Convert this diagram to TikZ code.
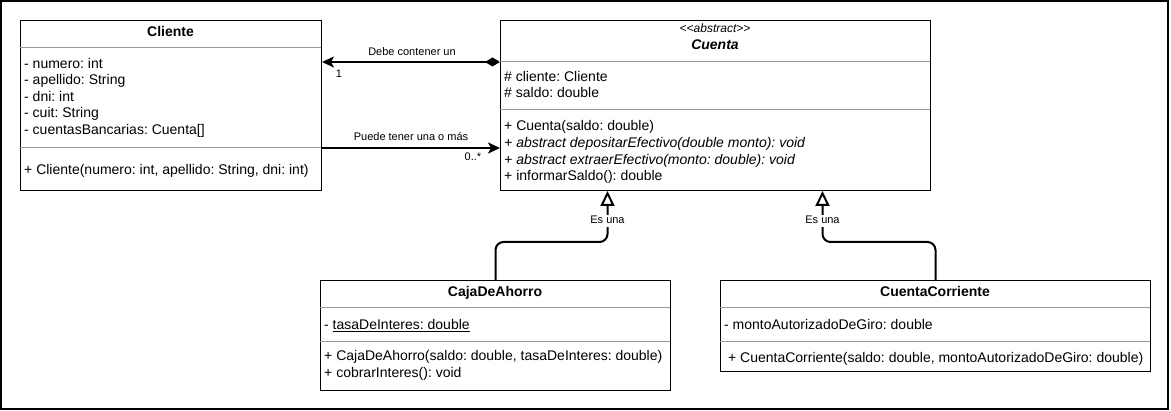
\documentclass[tikz,border=0pt]{standalone}
\usepackage{fontspec}
\setmainfont{Liberation Sans}
\usetikzlibrary{arrows.meta}
\frenchspacing
\begin{document}
\begin{tikzpicture}[x=1pt,y=-1pt,
  box/.style={draw=black, line width=1pt, anchor=north west, inner sep=0pt, fill=white},
  sep/.style={draw=black!40, line width=1pt},
  txt/.style={anchor=west, inner sep=0pt, font=\fontsize{14}{16}\selectfont, text height=10pt, text depth=3pt},
  ttl/.style={anchor=center, inner sep=0pt, font=\fontsize{14}{16}\selectfont\bfseries, text height=10pt, text depth=3pt},
  stereo/.style={anchor=center, inner sep=0pt, font=\fontsize{12}{14}\selectfont\itshape, text height=8.6pt, text depth=2.5pt},
  lbl/.style={inner sep=1pt, font=\fontsize{11}{13}\selectfont, text height=7.9pt, text depth=2.3pt},
  conn/.style={line width=2pt, draw=black},
  assocarrow/.style={conn, -{Stealth[length=12pt, width=11pt, inset=3pt]}},
  gen/.style={conn, rounded corners=8pt, -{Triangle[open, length=15pt, width=14pt]}}
]
\useasboundingbox (0,0) rectangle (1171,411);
\draw[line width=1.5pt] (1,1) rectangle (1168,409);

% ---------- Cliente ----------
\node[box, minimum width=301pt, minimum height=170pt] (cli) at (20,20) {};
\draw[sep] (20,48) -- (321,48);
\draw[sep] (20,148) -- (321,148);
\node[ttl] (cliT) at (170.5,33) {Cliente};
\node[txt] (cliA1) at (24,65) {- numero: int};
\node[txt] (cliA2) at (24,81.5) {- apellido: String};
\node[txt] (cliA3) at (24,98) {- dni: int};
\node[txt] (cliA4) at (24,114.5) {- cuit: String};
\node[txt] (cliA5) at (24,131) {- cuentasBancarias: Cuenta[]};
\node[txt] (cliM1) at (24,171) {+ Cliente(numero: int, apellido: String, dni: int)};

% ---------- Cuenta ----------
\node[box, minimum width=430pt, minimum height=170pt] (cue) at (500,20) {};
\draw[sep] (500,62) -- (930,62);
\draw[sep] (500,110) -- (930,110);
\node[stereo] (cueS) at (715,29) {<\kern0pt<abstract>\kern0pt>};
\node[ttl, font=\fontsize{14}{16}\selectfont\bfseries\itshape] (cueT) at (715,46) {Cuenta};
\node[txt] (cueA1) at (504,78) {\# cliente: Cliente};
\node[txt] (cueA2) at (504,94) {\# saldo: double};
\node[txt] (cueM1) at (504,127) {+ Cuenta(saldo: double)};
\node[txt, font=\fontsize{14}{16}\selectfont\itshape] (cueM2) at (504,144) {+ abstract depositarEfectivo(double monto): void};
\node[txt, font=\fontsize{14}{16}\selectfont\itshape] (cueM3) at (504,161) {+ abstract extraerEfectivo(monto: double): void};
\node[txt] (cueM4) at (504,177) {+ informarSaldo(): double};

% ---------- CajaDeAhorro ----------
\node[box, minimum width=350pt, minimum height=110pt] (caja) at (320,280) {};
\draw[sep] (320,308) -- (670,308);
\draw[sep] (320,342) -- (670,342);
\node[ttl] (cajaT) at (495,293) {CajaDeAhorro};
\node[txt] (cajaA1) at (324,326) {- \underline{tasaDeInteres: double}};
\node[txt] (cajaM1) at (324,357) {+ CajaDeAhorro(saldo: double, tasaDeInteres: double)};
\node[txt] (cajaM2) at (324,374) {+ cobrarInteres(): void};

% ---------- CuentaCorriente ----------
\node[box, minimum width=430pt, minimum height=91pt] (cc) at (720,280) {};
\draw[sep] (720,308) -- (1150,308);
\draw[sep] (720,342) -- (1150,342);
\node[ttl] (ccT) at (935,293) {CuentaCorriente};
\node[txt] (ccA1) at (724,326) {- montoAutorizadoDeGiro: double};
\node[txt] (ccM1) at (724,359) {\ + CuentaCorriente(saldo: double, montoAutorizadoDeGiro: double)};

% ---------- associations ----------
\draw[assocarrow, {Diamond[length=15pt, width=9pt]}-{Stealth[length=12pt, width=11pt, inset=3pt]}]
  ([yshift=-42pt]cue.north west) -- ([yshift=-42pt]cli.north east);
\node[lbl] (l1) at (412,53) {Debe contener un};
\node[lbl] (l1m) at (339,75) {1};

\draw[assocarrow] ([yshift=-128pt]cli.north east) -- ([yshift=-128pt]cue.north west);
\node[lbl] (l2) at (411,138) {Puede tener una o más};
\node[lbl] (l2m) at (473,158) {0..*};

% ---------- generalizations ----------
\draw[gen] (caja.north) -- ++(0,-38) -| ([xshift=107.5pt]cue.south west);
\node[lbl, fill=white] (g1) at (607.5,221) {Es una};
\draw[gen] (cc.north) -- ++(0,-38) -| ([xshift=322.5pt]cue.south west);
\node[lbl, fill=white] (g2) at (822.5,221) {Es una};
\end{tikzpicture}
\end{document}
